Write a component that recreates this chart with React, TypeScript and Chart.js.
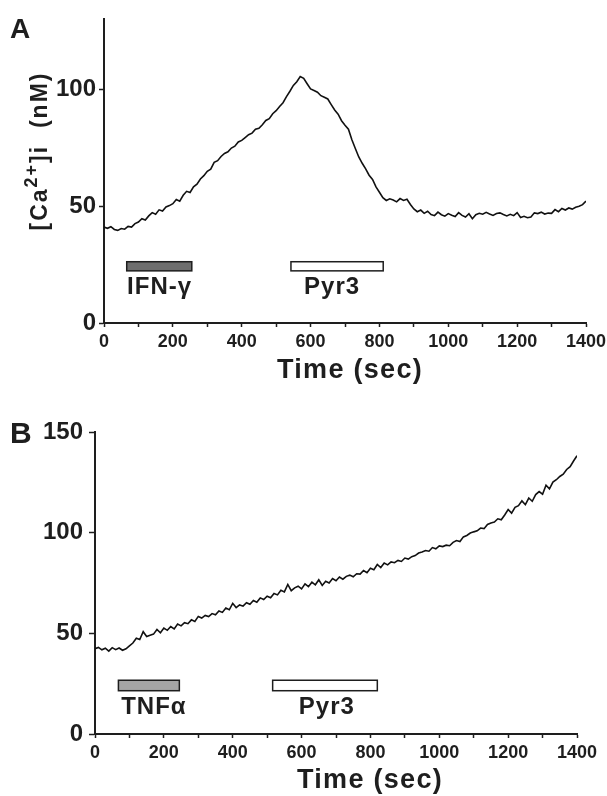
import { useEffect, useRef } from 'react';
import { Chart, registerables } from 'chart.js';

Chart.register(...registerables);

const FONT = '"Liberation Sans", Arial, Helvetica, sans-serif';
const INK = '#1e1e1e';

// sample interval of the recordings (sec)
const SAMPLE_INTERVAL = 10;

// x axis ticks (sec)
const timeTicks = [0, 100, 200, 300, 400, 500, 600, 700, 800, 900, 1000, 1100, 1200, 1300, 1400];
const labeledTimes = [0, 200, 400, 600, 800, 1000, 1200, 1400];

// y axis ticks
const yTicksA = [0, 50, 100];
const yTicksB = [0, 50, 100, 150];

// Panel A: [Ca2+]i (nM), IFN-γ then Pyr3
const caA = [
  41.0, 40.5, 41.2, 40.0, 39.6, 40.4, 40.1, 41.3, 41.0, 42.5,
  43.2, 44.6, 44.0, 45.8, 47.2, 46.5, 48.4, 47.9, 49.6, 50.2,
  51.0, 52.8, 52.1, 54.6, 56.3, 55.8, 58.2, 59.4, 61.6, 63.0,
  64.9, 65.8, 68.7, 69.4, 71.2, 72.5, 73.2, 74.8, 75.6, 77.4,
  78.1, 79.3, 80.5, 81.2, 82.9, 83.3, 84.8, 86.6, 87.4, 89.5,
  90.8, 92.6, 94.2, 96.8, 99.1, 101.6, 103.2, 105.4, 104.6, 102.3,
  100.1, 99.4, 98.7, 97.2, 96.5, 95.8, 93.4, 91.1, 89.3, 86.5,
  84.6, 82.9, 78.4, 74.6, 71.0, 68.3, 65.9, 63.2, 61.4, 58.2,
  55.9, 53.6, 52.4, 53.1, 52.6, 51.8, 53.2, 52.4, 52.9, 50.7,
  48.8, 47.6, 48.3, 46.9, 47.8, 46.4, 45.9, 47.4, 46.3, 45.7,
  46.8, 46.1, 45.5, 47.2, 46.0, 45.3, 46.7, 44.6, 46.3, 46.9,
  46.5, 47.3, 46.6, 46.0, 46.8, 47.1, 46.4, 45.8, 46.5, 45.9,
  47.2, 45.1, 45.6, 45.0, 45.3, 47.1, 46.8, 47.4, 46.6, 47.0,
  46.9, 48.5, 47.6, 49.0, 48.3, 49.2, 48.7, 49.5, 49.9, 50.6,
  52.1,
];

// Panel B: [Ca2+]i (nM), TNFα then Pyr3
const caB = [
  42.4, 43.0, 41.8, 42.6, 41.2, 42.9, 41.9, 42.7, 41.6, 42.3,
  43.8, 45.2, 47.6, 46.9, 50.8, 48.4, 49.1, 49.6, 51.9, 50.3,
  52.6, 51.5, 53.4, 52.2, 54.6, 53.7, 55.3, 54.8, 56.7, 55.9,
  58.4, 57.6, 58.9, 58.3, 59.8, 59.2, 61.1, 60.4, 62.6, 61.7,
  64.9, 62.8, 64.1, 63.5, 65.2, 64.4, 66.3, 65.4, 67.6, 66.8,
  68.4, 67.7, 69.8, 69.1, 71.4, 70.6, 74.3, 71.2, 72.6, 73.4,
  72.1, 74.6, 73.2, 75.4, 74.1, 76.6, 73.8, 75.9, 75.0, 77.2,
  76.1, 78.0, 76.9, 78.3, 78.9, 78.1, 79.6, 79.4, 81.2, 80.1,
  82.3, 81.6, 84.2, 82.7, 84.9, 84.0, 85.5, 85.1, 86.2, 85.7,
  87.4, 86.9, 88.1, 88.6, 89.9, 90.4, 91.1, 90.8, 92.6, 92.0,
  93.4, 93.1, 93.8, 93.5, 95.2, 96.1, 95.6, 97.9, 98.6, 99.8,
  100.4, 100.9, 102.3, 102.0, 104.1, 104.8, 105.3, 106.9, 106.4, 108.8,
  111.5, 109.7, 112.6, 113.4, 115.8, 113.9, 117.2, 115.6, 118.9, 120.4,
  119.1, 123.6, 121.8, 125.1, 126.3, 127.9, 129.0, 131.4, 132.8, 135.6,
  138.2,
];

// drug application bars, panel A
const drugNamesA = ['IFN-γ', 'Pyr3'];
const drugStartA = [66, 543];
const drugEndA = [255, 811];
const drugLabelAtA = [67, 581];
const drugFillA = ['#6e6e6e', '#ffffff'];
const drugBandA = [22.3, 26.2];
const drugLabelYA = 12.4;

// drug application bars, panel B
const drugNamesB = ['TNFα', 'Pyr3'];
const drugStartB = [68, 516];
const drugEndB = [245, 820];
const drugLabelAtB = [76, 592];
const drugFillB = ['#a5a5a5', '#ffffff'];
const drugBandB = [21.5, 26.7];
const drugLabelYB = 9.9;

type Deco = {
  names: string[];
  starts: number[];
  ends: number[];
  labelAt: number[];
  fills: string[];
  band: number[];
  labelY: number;
  letter: string;
  letterSize: number;
  letterBase: number;
  xTitleX: number;
  xTitleBase: number;
  yTitle?: { x: number; y: number };
};

function makeDeco(d: Deco) {
  return {
    id: 'deco',
    afterDatasetsDraw(chart: any) {
      const ctx = chart.ctx;
      const xs = chart.scales.x;
      const ys = chart.scales.y;
      ctx.save();
      for (let i = 0; i < d.names.length; i++) {
        const x0 = xs.getPixelForValue(d.starts[i]);
        const x1 = xs.getPixelForValue(d.ends[i]);
        const y0 = ys.getPixelForValue(d.band[1]);
        const y1 = ys.getPixelForValue(d.band[0]);
        ctx.fillStyle = d.fills[i];
        ctx.fillRect(x0, y0, x1 - x0, y1 - y0);
        ctx.strokeStyle = INK;
        ctx.lineWidth = 1.5;
        ctx.strokeRect(x0, y0, x1 - x0, y1 - y0);
        ctx.font = `bold 24px ${FONT}`;
        ctx.letterSpacing = '1px';
        ctx.textAlign = 'left';
        ctx.textBaseline = 'alphabetic';
        ctx.fillStyle = INK;
        ctx.fillText(d.names[i], xs.getPixelForValue(d.labelAt[i]), ys.getPixelForValue(d.labelY));
      }
      ctx.restore();
    },
    afterDraw(chart: any) {
      const ctx = chart.ctx;
      ctx.save();
      ctx.fillStyle = INK;
      // panel letter
      ctx.font = `bold ${d.letterSize}px ${FONT}`;
      ctx.textAlign = 'left';
      ctx.textBaseline = 'alphabetic';
      ctx.fillText(d.letter, 10, d.letterBase);
      // x title
      ctx.font = `bold 27px ${FONT}`;
      ctx.letterSpacing = '1.3px';
      ctx.textAlign = 'center';
      ctx.fillText('Time (sec)', d.xTitleX, d.xTitleBase);
      // y title
      if (d.yTitle) {
        ctx.translate(d.yTitle.x, d.yTitle.y);
        ctx.rotate(-Math.PI / 2);
        ctx.letterSpacing = '2px';
        const big = `bold 23px ${FONT}`;
        const small = `bold 18px ${FONT}`;
        const parts: [string, string, number][] = [
          ['[Ca', big, 0],
          ['2+', small, -10],
          [']i  (nM)', big, 0],
        ];
        let total = 0;
        for (const p of parts) {
          ctx.font = p[1];
          total += ctx.measureText(p[0]).width;
        }
        let cx = -total / 2;
        ctx.textAlign = 'left';
        for (const p of parts) {
          ctx.font = p[1];
          ctx.fillText(p[0], cx, p[2]);
          cx += ctx.measureText(p[0]).width;
        }
      }
      ctx.restore();
    },
  };
}

type PanelCfg = {
  values: number[];
  yMax: number;
  yTicks: number[];
  yWidth: number;
  xHeight: number;
  padTop: number;
  padRight: number;
  yTickLen: number;
  yTickPad: number;
  deco: Deco;
};

function buildChart(canvas: HTMLCanvasElement, p: PanelCfg) {
  const points = p.values.map((v, i) => ({ x: i * SAMPLE_INTERVAL, y: v }));
  return new Chart(canvas, {
    type: 'line',
    data: {
      datasets: [
        {
          data: points,
          borderColor: '#111',
          borderWidth: 1.6,
          pointRadius: 0,
          tension: 0,
          fill: false,
        },
      ],
    },
    options: {
      animation: false,
      responsive: false,
      devicePixelRatio: 1,
      layout: { padding: { left: 0, right: p.padRight, top: p.padTop, bottom: 0 } },
      plugins: { legend: { display: false }, tooltip: { enabled: false }, title: { display: false } },
      scales: {
        x: {
          type: 'linear',
          min: 0,
          max: 1400,
          afterBuildTicks: (s: any) => {
            s.ticks = timeTicks.map((v) => ({ value: v }));
          },
          afterFit: (s: any) => {
            s.height = p.xHeight;
            s.paddingLeft = 0;
            s.paddingRight = 0;
          },
          ticks: {
            autoSkip: false,
            maxRotation: 0,
            padding: 4,
            color: INK,
            font: { family: FONT, size: 18, weight: 'bold' },
            callback: (v: any) => (labeledTimes.includes(Number(v)) ? String(v) : ''),
          },
          grid: {
            display: true,
            drawOnChartArea: false,
            drawTicks: true,
            tickLength: 4,
            tickColor: INK,
            tickWidth: 1.5,
          },
          border: { display: true, color: INK, width: 2 },
        },
        y: {
          type: 'linear',
          min: 0,
          max: p.yMax,
          afterBuildTicks: (s: any) => {
            s.ticks = p.yTicks.map((v) => ({ value: v }));
          },
          afterFit: (s: any) => {
            s.width = p.yWidth;
            s.paddingTop = 0;
            s.paddingBottom = 0;
          },
          ticks: {
            padding: p.yTickPad,
            color: INK,
            font: { family: FONT, size: 24, weight: 'bold' },
          },
          grid: {
            display: true,
            drawOnChartArea: false,
            drawTicks: true,
            tickLength: p.yTickLen,
            tickColor: INK,
            tickWidth: 1.5,
          },
          border: { display: true, color: INK, width: 2 },
        },
      },
    },
    plugins: [makeDeco(p.deco)],
  });
}

export default function App() {
  const refA = useRef<HTMLCanvasElement>(null);
  const refB = useRef<HTMLCanvasElement>(null);

  useEffect(() => {
    const a = buildChart(refA.current!, {
      values: caA,
      yMax: 130,
      yTicks: yTicksA,
      yWidth: 104,
      xHeight: 67,
      padTop: 19,
      padRight: 21,
      yTickLen: 5,
      yTickPad: 3,
      deco: {
        names: drugNamesA,
        starts: drugStartA,
        ends: drugEndA,
        labelAt: drugLabelAtA,
        fills: drugFillA,
        band: drugBandA,
        labelY: drugLabelYA,
        letter: 'A',
        letterSize: 28,
        letterBase: 38,
        xTitleX: 350,
        xTitleBase: 378,
        yTitle: { x: 47, y: 151 },
      },
    });
    const b = buildChart(refB.current!, {
      values: caB,
      yMax: 150,
      yTicks: yTicksB,
      yWidth: 95,
      xHeight: 62,
      padTop: 42,
      padRight: 30,
      yTickLen: 6,
      yTickPad: 6,
      deco: {
        names: drugNamesB,
        starts: drugStartB,
        ends: drugEndB,
        labelAt: drugLabelAtB,
        fills: drugFillB,
        band: drugBandB,
        labelY: drugLabelYB,
        letter: 'B',
        letterSize: 30,
        letterBase: 53,
        xTitleX: 370,
        xTitleBase: 398,
      },
    });
    return () => {
      a.destroy();
      b.destroy();
    };
  }, []);

  return (
    <div style={{ position: 'absolute', left: 0, top: 0, width: 607, height: 796, background: '#fff' }}>
      <canvas ref={refA} width={607} height={390} style={{ position: 'absolute', left: 0, top: 0, display: 'block' }} />
      <canvas ref={refB} width={607} height={406} style={{ position: 'absolute', left: 0, top: 390, display: 'block' }} />
    </div>
  );
}
